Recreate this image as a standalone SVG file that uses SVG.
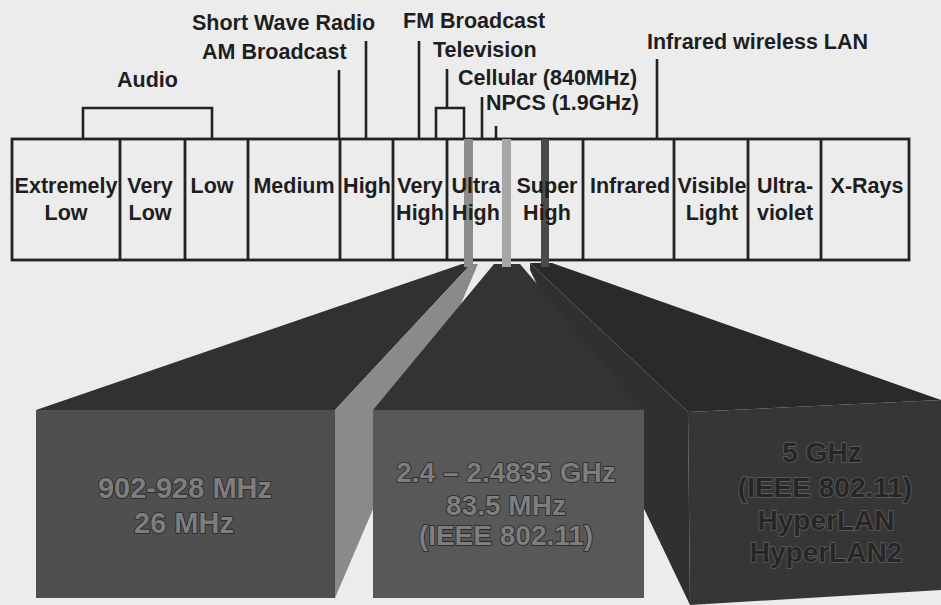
<svg xmlns="http://www.w3.org/2000/svg" width="941" height="605" viewBox="0 0 941 605">
<style>
.lbl{font-family:"Liberation Sans",Arial,sans-serif;font-weight:bold;font-size:21.5px;fill:#1e1e1e}
.band{font-family:"Liberation Sans",Arial,sans-serif;font-weight:bold;font-size:21.5px;fill:#1e1e1e;text-anchor:middle}
.ln{stroke:#222;stroke-width:2.6;fill:none}
.cell{fill:none;stroke:#222;stroke-width:2.8}
.ft{font-family:"Liberation Sans",Arial,sans-serif;font-weight:bold;font-size:28px;text-anchor:middle;paint-order:stroke;stroke-linejoin:round}
.ftl{fill:#7e7e7e;stroke:#262626;stroke-width:1.6}
.ftd{fill:#262626;stroke:#5e5e5e;stroke-width:1.6}
</style>
<rect width="941" height="605" fill="#ececec"/>

<!-- fan 3 (5 GHz) -->
<g id="fan-5ghz">
<polygon points="530,263 530,270 690,605 688,412" fill="#303030"/>
<polygon points="530,263 552,263 941,400 688,412" fill="#2a2a2a"/>
<polygon points="688,412 941,400 941,590 690,605" fill="#363636"/>
<text class="ft ftd" x="822" y="462">5 GHz</text>
<text class="ft ftd" x="825" y="497">(IEEE 802.11)</text>
<text class="ft ftd" x="826" y="530">HyperLAN</text>
<text class="ft ftd" x="826" y="562">HyperLAN2</text>
</g>

<!-- fan 1 (902-928 MHz) -->
<g id="fan-900mhz">
<polygon points="36,410 335,410 471,264 462,264" fill="#313131"/>
<polygon points="471,264 478,264 335,598 335,410" fill="#8a8a8a"/>
<rect x="36" y="410" width="299" height="188" fill="#4f4f4f"/>
<text class="ft ftl" x="185" y="498" style="font-size:29px">902-928 MHz</text>
<text class="ft ftl" x="184" y="533" style="font-size:29px">26 MHz</text>
</g>

<!-- fan 2 (2.4 GHz) -->
<g id="fan-2400mhz">
<polygon points="373,410 644,410 520,264 494,264" fill="#333333"/>
<rect x="373" y="410" width="271" height="188" fill="#585858"/>
<text class="ft ftl" x="506" y="482">2.4 – 2.4835 GHz</text>
<text class="ft ftl" x="506" y="515">83.5 MHz</text>
<text class="ft ftl" x="506" y="545">(IEEE 802.11)</text>
</g>

<!-- spectrum table -->
<g id="spectrum">
<rect class="cell" x="12" y="139" width="897" height="121"/>
<line class="cell" x1="120" y1="139" x2="120" y2="260"/>
<line class="cell" x1="185" y1="139" x2="185" y2="260"/>
<line class="cell" x1="248" y1="139" x2="248" y2="260"/>
<line class="cell" x1="340" y1="139" x2="340" y2="260"/>
<line class="cell" x1="393" y1="139" x2="393" y2="260"/>
<line class="cell" x1="447" y1="139" x2="447" y2="260"/>
<line class="cell" x1="583" y1="139" x2="583" y2="260"/>
<line class="cell" x1="674" y1="139" x2="674" y2="260"/>
<line class="cell" x1="748" y1="139" x2="748" y2="260"/>
<line class="cell" x1="821" y1="139" x2="821" y2="260"/>
</g>

<g id="bands-highlight">
<rect x="464" y="139" width="9" height="128" fill="#8c8c8c"/>
<rect x="502" y="139" width="9" height="128" fill="#a6a6a6"/>
<rect x="541" y="139" width="8" height="128" fill="#4a4a4a"/>
</g>

<g id="band-elf"><text class="band" x="66" y="193">Extremely</text><text class="band" x="66" y="220">Low</text></g>
<g id="band-vlf"><text class="band" x="150" y="193">Very</text><text class="band" x="150" y="220">Low</text></g>
<g id="band-lf"><text class="band" x="212" y="193">Low</text></g>
<g id="band-mf"><text class="band" x="294" y="193">Medium</text></g>
<g id="band-hf"><text class="band" x="367" y="193">High</text></g>
<g id="band-vhf"><text class="band" x="420" y="193">Very</text><text class="band" x="420" y="220">High</text></g>
<g id="band-uhf"><text class="band" x="476" y="193">Ultra</text><text class="band" x="476" y="220">High</text></g>
<g id="band-shf"><text class="band" x="547" y="193">Super</text><text class="band" x="547" y="220">High</text></g>
<g id="band-ir"><text class="band" x="630" y="193">Infrared</text></g>
<g id="band-vis"><text class="band" x="712" y="193">Visible</text><text class="band" x="712" y="220">Light</text></g>
<g id="band-uv"><text class="band" x="785" y="193">Ultra-</text><text class="band" x="785" y="220">violet</text></g>
<g id="band-xray"><text class="band" x="867" y="193">X-Rays</text></g>

<!-- application labels -->
<g id="lbl-audio"><text class="lbl" x="117" y="87">Audio</text></g>
<g id="lbl-am"><text class="lbl" x="202" y="59">AM Broadcast</text></g>
<g id="lbl-sw"><text class="lbl" x="192" y="30">Short Wave Radio</text></g>
<g id="lbl-fm"><text class="lbl" x="403" y="28">FM Broadcast</text></g>
<g id="lbl-tv"><text class="lbl" x="433" y="57">Television</text></g>
<g id="lbl-cell"><text class="lbl" x="458" y="85">Cellular (840MHz)</text></g>
<g id="lbl-npcs"><text class="lbl" x="486" y="110">NPCS (1.9GHz)</text></g>
<g id="lbl-irlan"><text class="lbl" x="647" y="49">Infrared wireless LAN</text></g>

<g id="connectors">
<polyline class="ln" points="83,139 83,108 212,108 212,139"/>
<line class="ln" x1="339" y1="70" x2="339" y2="139"/>
<line class="ln" x1="366" y1="41" x2="366" y2="139"/>
<line class="ln" x1="419" y1="41" x2="419" y2="139"/>
<line class="ln" x1="447" y1="69" x2="447" y2="108"/>
<polyline class="ln" points="436,139 436,108 464,108 464,139"/>
<line class="ln" x1="482" y1="97" x2="482" y2="139"/>
<line class="ln" x1="496" y1="126" x2="496" y2="139"/>
<line class="ln" x1="657" y1="59" x2="657" y2="139"/>
</g>
</svg>
